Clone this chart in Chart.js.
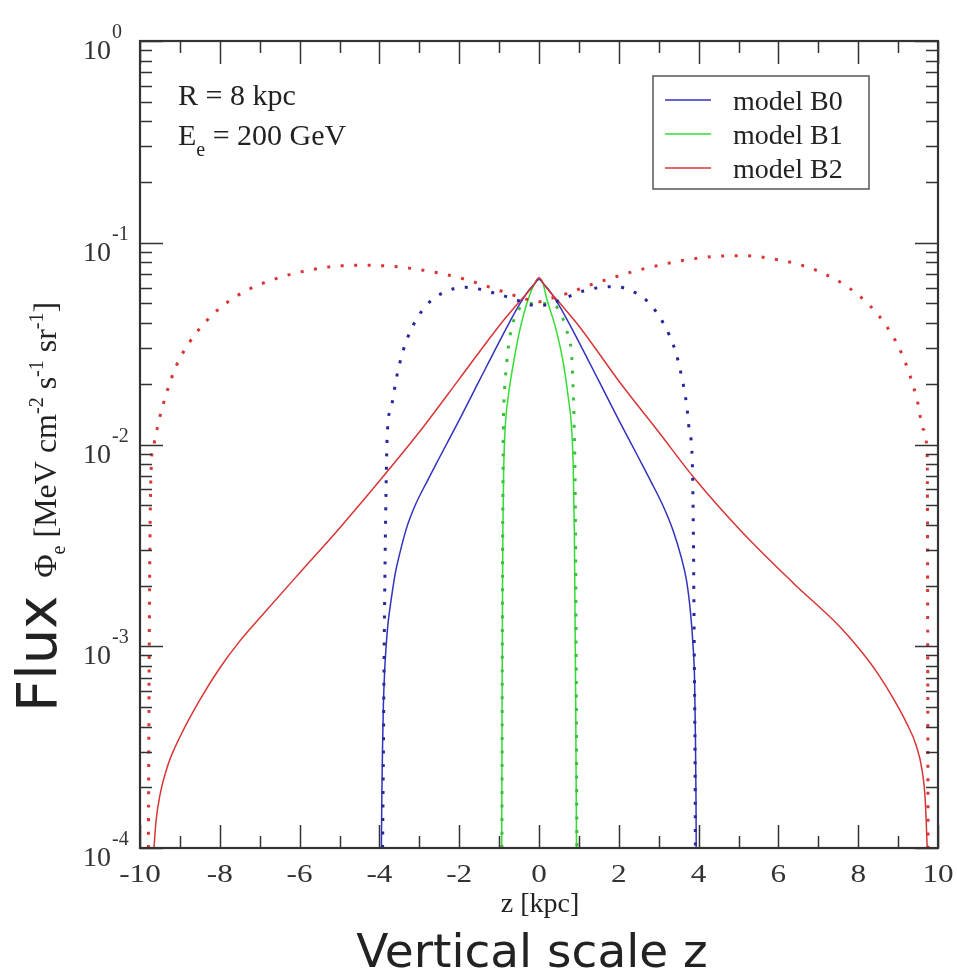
<!DOCTYPE html>
<html>
<head>
<meta charset="utf-8">
<script src="https://cdn.jsdelivr.net/npm/chart.js@4.4.1/dist/chart.umd.min.js"></script>
<style>
  html, body { margin: 0; padding: 0; background: #fff; }
</style>
</head>
<body>
<canvas id="myChart1" width="957" height="972"></canvas>
<script>
// values: z in kpc, flux in MeV cm^-2 s^-1 sr^-1
const zB0 = [-3.95,-3.94,-3.92,-3.9,-3.87,-3.83,-3.78,-3.7,-3.6,-3.5,-3.32,-3.1,-2.8,-2.5,-2,-1.5,-1,-0.5,-0.25,-0.1,0,0.1,0.25,0.5,1,1.5,2,2.5,2.8,3.1,3.36,3.55,3.7,3.8,3.86,3.9,3.92,3.935,3.94];
const fluxB0 = [1e-4,1.73e-4,3.24e-4,5.12e-4,7.45e-4,1.01e-3,1.32e-3,1.73e-3,2.31e-3,2.83e-3,3.85e-3,5.01e-3,6.59e-3,8.57e-3,1.322e-2,2.065e-2,3.22e-2,4.91e-2,5.83e-2,6.3e-2,6.6e-2,6.3e-2,5.83e-2,4.91e-2,3.22e-2,2.065e-2,1.322e-2,8.57e-3,6.59e-3,5.01e-3,3.75e-3,2.83e-3,2.1e-3,1.45e-3,1.01e-3,6.7e-4,3.6e-4,1.73e-4,1e-4];

const zB1 = [-0.935,-0.925,-0.915,-0.905,-0.885,-0.85,-0.77,-0.64,-0.48,-0.25,-0.1,0,0.1,0.18,0.43,0.61,0.73,0.82,0.86,0.885,0.9,0.92,0.94];
const fluxB1 = [1e-4,5.4e-4,1.7e-3,3.77e-3,7.48e-3,1.18e-2,1.73e-2,2.53e-2,3.7e-2,5.4e-2,6.3e-2,6.6e-2,6.3e-2,5.4e-2,3.7e-2,2.53e-2,1.73e-2,1.18e-2,7.48e-3,3.77e-3,1.7e-3,5.4e-4,1e-4];

const zB2 = [-9.65,-9.6,-9.5,-9.3,-9,-8.5,-8,-7.5,-7,-6,-5,-4,-3,-2,-1,-0.5,-0.15,0,0.15,0.5,1,2,3,3.87,5.04,6.37,7.54,8.05,8.5,8.9,9.21,9.45,9.6,9.68,9.73];
const fluxB2 = [1e-4,1.35e-4,1.83e-4,2.58e-4,3.55e-4,5.42e-4,7.8e-4,1.06e-3,1.38e-3,2.31e-3,3.85e-3,6.59e-3,1.153e-2,2.11e-2,3.87e-2,5.08e-2,6.1e-2,6.7e-2,6.1e-2,5.08e-2,3.87e-2,2.065e-2,1.153e-2,6.9e-3,3.77e-3,2.06e-3,1.25e-3,9.58e-4,7.28e-4,5.42e-4,4.17e-4,3.24e-4,2.44e-4,1.73e-4,1e-4];

// dotted curves
const zB0dot = [-3.92,-3.9,-3.88,-3.85,-3.82,-3.8,-3.69,-3.57,-3.4,-3.15,-2.75,-2.16,-1.83,-1.15,-0.48,-0.18,0,0.18,0.48,1.15,1.82,2.16,2.74,3.14,3.41,3.58,3.7,3.77,3.84,3.87,3.89,3.91,3.92];
const fluxB0dot = [1e-4,3e-4,1e-3,3.5e-3,8.5e-3,1.16e-2,1.57e-2,2.15e-2,2.94e-2,3.91e-2,5.07e-2,5.9e-2,6.01e-2,5.65e-2,5.14e-2,4.91e-2,4.9e-2,4.91e-2,5.14e-2,5.8e-2,6.05e-2,5.94e-2,5.07e-2,3.91e-2,2.94e-2,2.15e-2,1.57e-2,1.16e-2,8.5e-3,3.5e-3,1e-3,3e-4,1e-4];

const zB1dot = [-0.93,-0.92,-0.905,-0.89,-0.88,-0.81,-0.73,-0.6,-0.4,-0.2,0,0.2,0.4,0.6,0.69,0.82,0.85,0.88,0.91,0.93,0.95];
const fluxB1dot = [1e-4,1e-3,6e-3,1.37e-2,1.6e-2,2.53e-2,3.42e-2,4.3e-2,4.9e-2,5e-2,5e-2,5e-2,4.9e-2,4.2e-2,3.7e-2,2.72e-2,2.01e-2,1.28e-2,5e-3,1e-3,1e-4];

const zB2dot = [-9.79,-9.76,-9.71,-9.67,-9.52,-9.33,-9.1,-8.76,-8.33,-7.81,-7.24,-6.59,-5.92,-5.26,-4.57,-3.88,-3.2,-2.52,-1.85,-1.19,-0.52,0,0.3,0.82,1.15,1.78,2.45,3.12,3.78,4.45,5.15,5.83,6.5,7.14,7.75,8.27,8.71,9.05,9.3,9.49,9.63,9.73,9.74,9.75];
const fluxB2dot = [1e-4,2e-3,8.5e-3,9.7e-3,1.33e-2,1.81e-2,2.43e-2,3.21e-2,4.11e-2,5.07e-2,5.92e-2,6.64e-2,7.21e-2,7.59e-2,7.73e-2,7.69e-2,7.46e-2,7.08e-2,6.59e-2,5.98e-2,5.41e-2,5.1e-2,5.3e-2,5.7e-2,6.05e-2,6.64e-2,7.28e-2,7.82e-2,8.28e-2,8.57e-2,8.63e-2,8.34e-2,7.82e-2,7.03e-2,6.01e-2,4.93e-2,3.86e-2,2.94e-2,2.19e-2,1.62e-2,1.19e-2,8.8e-3,2e-3,1e-4];

const seriesNames = ["model B0", "model B1", "model B2"];
const xTicks = [-10, -8, -6, -4, -2, 0, 2, 4, 6, 8, 10];
const yTicks = [1, 0.1, 0.01, 0.001, 0.0001];
const yExponents = ["0", "-1", "-2", "-3", "-4"];

const BLUE = "#3232c0";
const GREEN = "#33dd33";
const RED = "#d83535";
const SERIF = "'Liberation Serif', 'Times New Roman', serif";
const SANS = "'DejaVu Sans', sans-serif";

function toPoints(xs, ys) {
  return xs.map((x, i) => ({ x: x, y: ys[i] }));
}

function solid(label, xs, ys, color) {
  return { label: label, data: toPoints(xs, ys), borderColor: color, borderWidth: 1.5,
    showLine: true, pointRadius: 0, cubicInterpolationMode: "monotone" };
}

function dotted(xs, ys, color) {
  return { label: "", data: toPoints(xs, ys), borderColor: color, borderWidth: 3,
    borderDash: [3, 10.5], borderCapStyle: "butt", showLine: true, pointRadius: 0,
    cubicInterpolationMode: "monotone" };
}

// draws runs of text along a baseline, runs can be shifted up/down (sub/superscripts)
function drawRuns(ctx, runs, x, y) {
  let cx = x;
  runs.forEach((r) => {
    ctx.font = r.font;
    ctx.fillText(r.text, cx, y + (r.dy || 0));
    cx += ctx.measureText(r.text).width;
  });
  return cx;
}

const framePlugin = {
  id: "frame",
  afterDraw(chart) {
    const ctx = chart.ctx;
    const a = chart.chartArea;
    const xs = chart.scales.x;
    const ys = chart.scales.y;
    ctx.save();

    // inward ticks on all four sides
    ctx.strokeStyle = "#333";
    ctx.lineWidth = 1.5;
    ctx.beginPath();
    for (let v = -10; v <= 10; v++) {
      const px = Math.round(xs.getPixelForValue(v)) + 0.5;
      const len = v % 2 === 0 ? 23 : 12;
      ctx.moveTo(px, a.bottom); ctx.lineTo(px, a.bottom - len);
      ctx.moveTo(px, a.top); ctx.lineTo(px, a.top + len);
    }
    for (let e = -4; e <= 0; e++) {
      for (let m = 1; m <= 9; m++) {
        const val = m * Math.pow(10, e);
        if (val > 1) break;
        const py = Math.round(ys.getPixelForValue(val)) + 0.5;
        const len = m === 1 ? 23 : 12;
        ctx.moveTo(a.left, py); ctx.lineTo(a.left + len, py);
        ctx.moveTo(a.right, py); ctx.lineTo(a.right - len, py);
      }
    }
    ctx.stroke();

    ctx.lineWidth = 2.2;
    ctx.strokeRect(a.left, a.top, a.right - a.left, a.bottom - a.top);

    // tick labels
    ctx.fillStyle = "#333";
    ctx.textBaseline = "alphabetic";
    xTicks.forEach((v) => {
      const px = xs.getPixelForValue(v);
      ctx.save();
      ctx.translate(px, 882);
      ctx.scale(1.2, 1);
      ctx.font = "26px " + SERIF;
      ctx.textAlign = "center";
      ctx.fillText(String(v), 0, 0);
      ctx.restore();
    });
    yTicks.forEach((v, i) => {
      const py = ys.getPixelForValue(v);
      ctx.font = "28px " + SERIF;
      ctx.textAlign = "right";
      ctx.fillText("10", 111, py + 18);
      ctx.font = "20px " + SERIF;
      ctx.textAlign = "left";
      ctx.fillText(yExponents[i], 112, py - 3);
    });

    // annotation
    ctx.fillStyle = "#222";
    ctx.textAlign = "left";
    drawRuns(ctx, [{ text: "R = 8 kpc", font: "30px " + SERIF }], 178, 105);
    drawRuns(ctx, [
      { text: "E", font: "30px " + SERIF },
      { text: "e", font: "20px " + SERIF, dy: 11 },
      { text: " = 200 GeV", font: "30px " + SERIF }
    ], 178, 145);

    // legend
    ctx.strokeStyle = "#555";
    ctx.lineWidth = 1.5;
    ctx.strokeRect(653, 76, 216, 113);
    const colors = [BLUE, GREEN, RED];
    seriesNames.forEach((name, i) => {
      const rowY = 100 + i * 34;
      ctx.strokeStyle = colors[i];
      ctx.beginPath();
      ctx.moveTo(665, rowY); ctx.lineTo(711, rowY);
      ctx.stroke();
      ctx.font = "28px " + SERIF;
      ctx.fillStyle = "#222";
      ctx.fillText(name, 733, rowY + 10);
    });

    // x axis titles
    ctx.textAlign = "center";
    ctx.font = "28px " + SERIF;
    ctx.fillText("z [kpc]", 540, 912);
    ctx.font = "47px " + SANS;
    ctx.fillText("Vertical scale z", 532, 967);

    // y axis title, rotated
    ctx.save();
    ctx.translate(56, 712);
    ctx.rotate(-Math.PI / 2);
    ctx.textAlign = "left";
    const sup = "20px " + SERIF;
    const main = "32px " + SERIF;
    drawRuns(ctx, [
      { text: "Flux ", font: "56px " + SANS },
      { text: "\u03A6", font: main },
      { text: "e", font: sup, dy: 9 },
      { text: " [MeV cm", font: main },
      { text: "-2", font: sup, dy: -13 },
      { text: " s", font: main },
      { text: "-1", font: sup, dy: -13 },
      { text: " sr", font: main },
      { text: "-1", font: sup, dy: -13 },
      { text: "]", font: main }
    ], 0, 0);
    ctx.restore();

    ctx.restore();
  }
};

const ctx = document.getElementById("myChart1");

new Chart(ctx, {
  type: "scatter",
  data: {
    datasets: [
      dotted(zB2dot, fluxB2dot, RED),
      dotted(zB0dot, fluxB0dot, "#28289a"),
      dotted(zB1dot, fluxB1dot, "#3cc03c"),
      solid(seriesNames[2], zB2, fluxB2, RED),
      solid(seriesNames[0], zB0, fluxB0, BLUE),
      solid(seriesNames[1], zB1, fluxB1, GREEN)
    ]
  },
  options: {
    responsive: false,
    animation: false,
    layout: { padding: { left: 140, top: 41, right: 19, bottom: 124 } },
    plugins: {
      legend: { display: false },
      tooltip: { enabled: false }
    },
    scales: {
      x: { type: "linear", min: -10, max: 10, display: false },
      y: { type: "logarithmic", min: 1e-4, max: 1, display: false }
    }
  },
  plugins: [framePlugin]
});
</script>
</body>
</html>
